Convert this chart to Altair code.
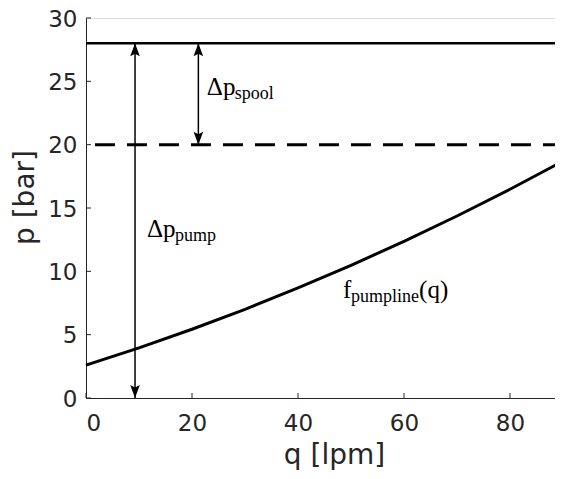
import altair as alt
import pandas as pd

# curve f_pumpline(q)
q_curve = [0, 10, 20, 30, 40, 50, 60, 70, 80, 90]
p_curve = [2.6, 3.96, 5.43, 7.00, 8.69, 10.47, 12.37, 14.37, 16.48, 18.70]

# pressure levels
level_p = [28, 20]
level_kind = ["relief", "spool"]

# double arrows
arrow_q = [9.25, 21.2]
arrow_lo = [0, 20]
arrow_hi = [28, 28]

# labels
lab_q = [22.8, 11.5, 48.5]
lab_p = [23.92, 12.71, 7.89]
lab_main = ["Δp", "Δp", "f"]
lab_sub = ["spool", "pump", "pumpline"]

x_ticks = [0, 20, 40, 60, 80]
y_ticks = [0, 5, 10, 15, 20, 25, 30]

W, H = 477, 380
AX = "#262626"

xs = alt.Scale(domain=[0, 90], nice=False, zero=False)
ys = alt.Scale(domain=[0, 30], nice=False, zero=False)

curve_df = pd.DataFrame({"q": q_curve, "p": p_curve})
lev_df = pd.DataFrame({"p": level_p, "kind": level_kind})
arr_df = pd.DataFrame({"q": arrow_q, "lo": arrow_lo, "hi": arrow_hi})
lab_df = pd.DataFrame({"q": lab_q, "p": lab_p, "main": lab_main, "sub": lab_sub})
xt_df = pd.DataFrame({"v": x_ticks})
yt_df = pd.DataFrame({"v": y_ticks})

xaxis = alt.Axis(values=x_ticks, ticks=False, grid=False, labelFont="DejaVu Sans",
                 labelFontSize=23, labelColor=AX, titleFont="DejaVu Sans",
                 titleFontSize=28, titleFontWeight="normal", titleColor=AX,
                 domainColor=AX, domainWidth=1, labelPadding=14,
                 titleX=248, titleY=65, titleBaseline="alphabetic",
                 titleAlign="center")
yaxis = alt.Axis(values=y_ticks, ticks=False, grid=False, labelFont="DejaVu Sans",
                 labelFontSize=23, labelColor=AX, titleFont="DejaVu Sans",
                 titleFontSize=28, titleFontWeight="normal", titleColor=AX,
                 domainColor=AX, domainWidth=1, labelPadding=9, labelOffset=1,
                 titleX=-53, titleY=179, titleBaseline="alphabetic",
                 titleAlign="center", titleAngle=270)

base_curve = alt.Chart(curve_df).mark_line(color="black", strokeWidth=3).encode(
    x=alt.X("q:Q", scale=xs, axis=xaxis, title="q [lpm]"),
    y=alt.Y("p:Q", scale=ys, axis=yaxis, title="p [bar]"),
)

relief = alt.Chart(lev_df).transform_filter(alt.datum.kind == "relief").mark_rule(
    color="black", strokeWidth=2.5).encode(y=alt.Y("p:Q", scale=ys))
spool = alt.Chart(lev_df).transform_filter(alt.datum.kind == "spool").mark_rule(
    color="black", strokeWidth=3, strokeDash=[20, 12]).encode(y=alt.Y("p:Q", scale=ys))

shafts = alt.Chart(arr_df).mark_rule(color="black", strokeWidth=1.5).encode(
    x=alt.X("q:Q", scale=xs), y=alt.Y("lo:Q", scale=ys), y2="hi:Q")

up_path = "M0,0L0.74,2L0,1.6L-0.74,2Z"
down_path = "M0,0L0.74,-2L0,-1.6L-0.74,-2Z"
heads_up = alt.Chart(arr_df).mark_point(shape=up_path, filled=True, size=169,
                                        color="black", opacity=1, strokeWidth=0).encode(
    x=alt.X("q:Q", scale=xs), y=alt.Y("hi:Q", scale=ys))
heads_dn = alt.Chart(arr_df).mark_point(shape=down_path, filled=True, size=169,
                                        color="black", opacity=1, strokeWidth=0).encode(
    x=alt.X("q:Q", scale=xs), y=alt.Y("lo:Q", scale=ys))

# tick marks pointing inward
yticks = alt.Chart(yt_df).mark_rule(color=AX, strokeWidth=1).encode(
    y=alt.Y("v:Q", scale=ys), x=alt.value(0), x2=alt.value(5))
xticks = alt.Chart(xt_df).mark_rule(color=AX, strokeWidth=1).encode(
    x=alt.X("v:Q", scale=xs), y=alt.value(H), y2=alt.value(H - 5))

SERIF = "Liberation Serif"
main_txt = alt.Chart(lab_df).mark_text(font=SERIF, fontSize=25, align="left",
                                       baseline="alphabetic", color="black").encode(
    x=alt.X("q:Q", scale=xs), y=alt.Y("p:Q", scale=ys), text="main:N")
sub_dp = alt.Chart(lab_df).transform_filter(alt.datum.main == "Δp").mark_text(
    font=SERIF, fontSize=18, align="left", baseline="alphabetic", color="black",
    dx=28, dy=4).encode(x=alt.X("q:Q", scale=xs), y=alt.Y("p:Q", scale=ys), text="sub:N")
sub_f = alt.Chart(lab_df).transform_filter(alt.datum.main == "f").mark_text(
    font=SERIF, fontSize=18, align="left", baseline="alphabetic", color="black",
    dx=8, dy=4).encode(x=alt.X("q:Q", scale=xs), y=alt.Y("p:Q", scale=ys), text="sub:N")
arg_f = alt.Chart(lab_df).transform_filter(alt.datum.main == "f").mark_text(
    font=SERIF, fontSize=25, align="left", baseline="alphabetic", color="black",
    dx=76).encode(x=alt.X("q:Q", scale=xs), y=alt.Y("p:Q", scale=ys),
                  text=alt.value("(q)"))

chart = alt.layer(
    base_curve, relief, spool, shafts, heads_up, heads_dn, yticks, xticks,
    main_txt, sub_dp, sub_f, arg_f
).properties(
    width=W, height=H,
    autosize=alt.AutoSizeParams(type="none"),
    padding={"left": 78, "top": 10, "right": -8, "bottom": 73},
).configure_view(stroke=None).configure(background="white")

chart.save("out.html", embed_options={"renderer": "svg", "actions": False})
